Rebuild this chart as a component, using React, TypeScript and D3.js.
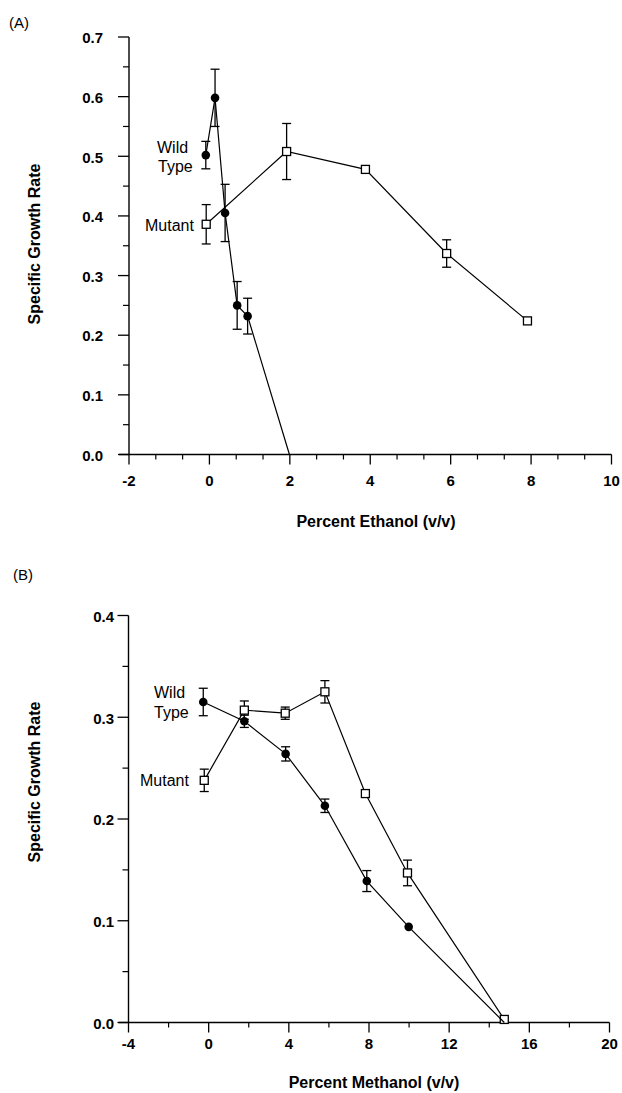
import React from "react";
import * as d3 from "d3";

// ---------- Panel A: Ethanol ----------
const ethXTicks = [-2, 0, 2, 4, 6, 8, 10];
const ethYTicks = [0, 0.1, 0.2, 0.3, 0.4, 0.5, 0.6, 0.7];
const wtEthX = [-0.09, 0.14, 0.39, 0.69, 0.95];
const wtEthY = [0.502, 0.598, 0.405, 0.25, 0.232];
const wtEthErr = [0.023, 0.048, 0.048, 0.04, 0.03];
const wtEthZeroX = 1.99; // wild type growth falls to zero here
const mutEthX = [-0.08, 1.92, 3.88, 5.9, 7.91];
const mutEthY = [0.386, 0.508, 0.478, 0.337, 0.224];
const mutEthErr = [0.033, 0.047, 0, 0.023, 0];

// ---------- Panel B: Methanol ----------
const methXTicks = [-4, 0, 4, 8, 12, 16, 20];
const methYTicks = [0, 0.1, 0.2, 0.3, 0.4];
const wtMethX = [-0.27, 1.78, 3.84, 5.8, 7.89, 9.98];
const wtMethY = [0.315, 0.296, 0.264, 0.213, 0.139, 0.094];
const wtMethErr = [0.0135, 0.006, 0.007, 0.0066, 0.0103, 0];
const wtMethZeroX = 14.75;
const mutMethX = [-0.22, 1.78, 3.82, 5.8, 7.82, 9.92, 14.75];
const mutMethY = [0.238, 0.307, 0.304, 0.325, 0.225, 0.147, 0.003];
const mutMethErr = [0.011, 0.009, 0.006, 0.011, 0, 0.0126, 0];

const FONT = "'Liberation Sans', Arial, Helvetica, sans-serif";

type PanelProps = {
  xDomain: [number, number];
  xRange: [number, number];
  yDomain: [number, number];
  yRange: [number, number];
  xTicks: number[];
  xMinorPer: number;
  yTicks: number[];
  wtX: number[];
  wtY: number[];
  wtErr: number[];
  wtZeroX: number;
  mutX: number[];
  mutY: number[];
  mutErr: number[];
  yLabelRight: number;
  xLabelBaseline: number;
  xTitle: string;
  xTitleX: number;
  xTitleY: number;
  yTitleX: number;
  yTitleY: number;
  panelLabel: string;
  panelLabelX: number;
  panelLabelY: number;
  wildPos: [number, number];
  typePos: [number, number];
  mutantPos: [number, number];
};

function Panel(p: PanelProps) {
  const x = d3.scaleLinear().domain(p.xDomain).range(p.xRange);
  const y = d3.scaleLinear().domain(p.yDomain).range(p.yRange);
  const x0 = x(p.xDomain[0]);
  const y0 = y(p.yDomain[0]);
  const xEnd = x(p.xDomain[1]);
  const yTop = y(p.yDomain[1]);

  const xMinor: number[] = [];
  for (let i = 0; i < p.xTicks.length - 1; i++) {
    const a = p.xTicks[i];
    const b = p.xTicks[i + 1];
    for (let k = 1; k < p.xMinorPer; k++) xMinor.push(a + ((b - a) * k) / p.xMinorPer);
  }
  const yMinor: number[] = [];
  for (let i = 0; i < p.yTicks.length - 1; i++) {
    yMinor.push((p.yTicks[i] + p.yTicks[i + 1]) / 2);
  }

  const line = d3
    .line<[number, number]>()
    .x((d) => x(d[0]))
    .y((d) => y(d[1]));

  const wtPts: [number, number][] = p.wtX.map((v, i) => [v, p.wtY[i]] as [number, number]);
  wtPts.push([p.wtZeroX, 0]);
  const mutPts: [number, number][] = p.mutX.map((v, i) => [v, p.mutY[i]] as [number, number]);

  const fmt = d3.format(".1f");
  const cap = 4.5;
  const sq = 8;

  const errBars = (xs: number[], ys: number[], es: number[]) =>
    xs.map((xv, i) =>
      es[i] > 0 ? (
        <g key={i} stroke="#000" strokeWidth={1.3}>
          <line x1={x(xv)} x2={x(xv)} y1={y(ys[i] - es[i])} y2={y(ys[i] + es[i])} />
          <line x1={x(xv) - cap} x2={x(xv) + cap} y1={y(ys[i] + es[i])} y2={y(ys[i] + es[i])} />
          <line x1={x(xv) - cap} x2={x(xv) + cap} y1={y(ys[i] - es[i])} y2={y(ys[i] - es[i])} />
        </g>
      ) : null
    );

  return (
    <g>
      {/* axes */}
      <line x1={x0} x2={x0} y1={yTop} y2={y0} stroke="#000" strokeWidth={1.4} />
      <line x1={x0 - 10} x2={xEnd} y1={y0} y2={y0} stroke="#000" strokeWidth={1.4} />
      {p.yTicks.map((t) => (
        <g key={"yt" + t}>
          <line x1={x0 - 11} x2={x0} y1={y(t)} y2={y(t)} stroke="#000" strokeWidth={1.3} />
          <text
            x={p.yLabelRight}
            y={y(t) + 1}
            dy="0.35em"
            textAnchor="end"
            fontFamily={FONT}
            fontWeight="bold"
            fontSize={15}
          >
            {fmt(t)}
          </text>
        </g>
      ))}
      {yMinor.map((t) => (
        <line key={"ym" + t} x1={x0 - 6} x2={x0} y1={y(t)} y2={y(t)} stroke="#000" strokeWidth={1.2} />
      ))}
      {p.xTicks.map((t) => (
        <g key={"xt" + t}>
          <line x1={x(t)} x2={x(t)} y1={y0} y2={y0 + 10} stroke="#000" strokeWidth={1.3} />
          <text
            x={x(t)}
            y={p.xLabelBaseline}
            textAnchor="middle"
            fontFamily={FONT}
            fontWeight="bold"
            fontSize={15}
          >
            {String(t).replace("-", "-")}
          </text>
        </g>
      ))}
      {xMinor.map((t) => (
        <line key={"xm" + t} x1={x(t)} x2={x(t)} y1={y0} y2={y0 + 5} stroke="#000" strokeWidth={1.2} />
      ))}

      {/* titles */}
      <text
        x={p.xTitleX}
        y={p.xTitleY}
        textAnchor="middle"
        fontFamily={FONT}
        fontWeight="bold"
        fontSize={16}
      >
        {p.xTitle}
      </text>
      <text
        transform={`translate(${p.yTitleX},${p.yTitleY}) rotate(-90)`}
        textAnchor="middle"
        fontFamily={FONT}
        fontWeight="bold"
        fontSize={16}
      >
        Specific Growth Rate
      </text>
      <text x={p.panelLabelX} y={p.panelLabelY} fontFamily={FONT} fontSize={15}>
        {p.panelLabel}
      </text>

      {/* series labels */}
      <text x={p.wildPos[0]} y={p.wildPos[1]} fontFamily={FONT} fontSize={16}>
        Wild
      </text>
      <text x={p.typePos[0]} y={p.typePos[1]} fontFamily={FONT} fontSize={16}>
        Type
      </text>
      <text x={p.mutantPos[0]} y={p.mutantPos[1]} fontFamily={FONT} fontSize={16}>
        Mutant
      </text>

      {/* mutant series */}
      <path d={line(mutPts) || ""} fill="none" stroke="#000" strokeWidth={1.2} />
      {errBars(p.mutX, p.mutY, p.mutErr)}
      {p.mutX.map((xv, i) => (
        <rect
          key={"sq" + i}
          x={x(xv) - sq / 2}
          y={y(p.mutY[i]) - sq / 2}
          width={sq}
          height={sq}
          fill="#fff"
          stroke="#000"
          strokeWidth={1.3}
        />
      ))}

      {/* wild type series */}
      <path d={line(wtPts) || ""} fill="none" stroke="#000" strokeWidth={1.2} />
      {errBars(p.wtX, p.wtY, p.wtErr)}
      {p.wtX.map((xv, i) => (
        <circle key={"c" + i} cx={x(xv)} cy={y(p.wtY[i])} r={4.3} fill="#000" />
      ))}
    </g>
  );
}

export default function App() {
  return (
    <svg
      width={622}
      height={1093}
      style={{ position: "absolute", left: 0, top: 0, background: "#fff" }}
    >
      <rect x={0} y={0} width={622} height={1093} fill="#fff" />
      <Panel
        xDomain={[-2, 10]}
        xRange={[129, 611.5]}
        yDomain={[0, 0.7]}
        yRange={[454.5, 37]}
        xTicks={ethXTicks}
        xMinorPer={3}
        yTicks={ethYTicks}
        wtX={wtEthX}
        wtY={wtEthY}
        wtErr={wtEthErr}
        wtZeroX={wtEthZeroX}
        mutX={mutEthX}
        mutY={mutEthY}
        mutErr={mutEthErr}
        yLabelRight={103}
        xLabelBaseline={486}
        xTitle="Percent Ethanol (v/v)"
        xTitleX={376}
        xTitleY={527}
        yTitleX={40}
        yTitleY={244}
        panelLabel="(A)"
        panelLabelX={9}
        panelLabelY={28}
        wildPos={[157, 153]}
        typePos={[158, 172]}
        mutantPos={[145, 231]}
      />
      <Panel
        xDomain={[-4, 20]}
        xRange={[128.5, 609.5]}
        yDomain={[0, 0.4]}
        yRange={[1022.5, 615.5]}
        xTicks={methXTicks}
        xMinorPer={2}
        yTicks={methYTicks}
        wtX={wtMethX}
        wtY={wtMethY}
        wtErr={wtMethErr}
        wtZeroX={wtMethZeroX}
        mutX={mutMethX}
        mutY={mutMethY}
        mutErr={mutMethErr}
        yLabelRight={114}
        xLabelBaseline={1049}
        xTitle="Percent Methanol (v/v)"
        xTitleX={374}
        xTitleY={1088}
        yTitleX={39.5}
        yTitleY={782}
        panelLabel="(B)"
        panelLabelX={13}
        panelLabelY={580}
        wildPos={[154, 698]}
        typePos={[154, 717.5]}
        mutantPos={[140, 785.5]}
      />
    </svg>
  );
}
